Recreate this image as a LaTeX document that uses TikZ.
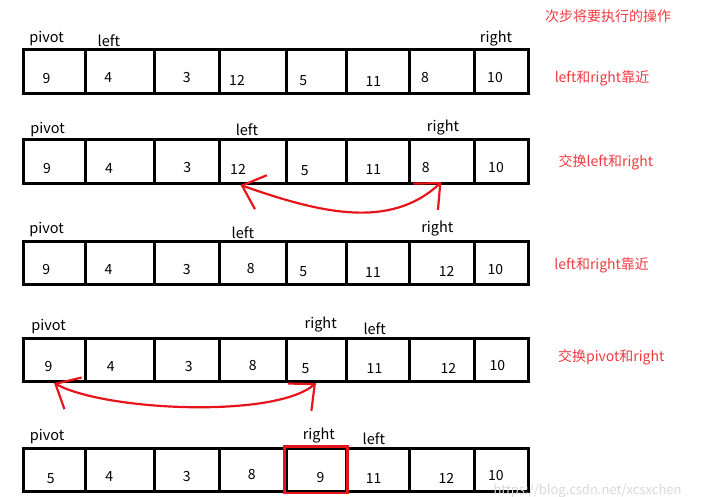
\documentclass[tikz,border=0pt]{standalone}
\usepackage{fontspec}
\setmainfont{Noto Sans CJK SC}
\usetikzlibrary{arrows.meta}
\definecolor{notered}{HTML}{F03A40}
\definecolor{penred}{HTML}{E8141C}
\begin{document}
\begin{tikzpicture}[x=1pt,y=-1pt,
    cell/.style={draw,line width=3pt,inner sep=0pt,minimum height=43.5pt},
    num/.style={font=\fontsize{14}{14}\selectfont},
    ptr/.style={font=\fontsize{14.5}{14.5}\selectfont},
    note/.style={text=notered,font=\fontsize{14}{14}\selectfont},
    swap/.style={draw=penred,line width=2.2pt,
      {Straight Barb[length=20pt,width=36pt]}-{Straight Barb[length=20pt,width=36pt]}}]
  \useasboundingbox (0,0) rectangle (701,497);

  % 格子
  \foreach \r/\top in {1/50,2/140,3/241,4/338,5/448}
    \foreach \c/\a/\b in {1/23/85,2/85/154,3/154/219,4/219/286,5/286/346,6/346/409,7/409/474,8/474/528}
      \node[cell,minimum width=\b-\a] (c\r\c) at ({(\a+\b)/2},\top+21.75) {};

  % 数字
  \foreach \t/\x/\y [count=\c] in {9/46.5/78.5,4/108.3/78,3/186.7/78,12/237/80.3,5/303.3/81,11/373.3/81.3,8/425/78,10/495/78}
    \node[num] (n1\c) at (\x,\y) {\t};
  \foreach \t/\x/\y [count=\c] in {9/47/168.3,4/109/168.3,3/187.3/168,12/238/169.7,5/304.7/170.3,11/373.3/170,8/425.8/167.7,10/496/167.7}
    \node[num] (n2\c) at (\x,\y) {\t};
  \foreach \t/\x/\y [count=\c] in {9/46.2/269.7,4/108.5/270,3/186.7/269.7,8/250.8/268.7,5/303.3/272,11/373/272.2,12/446.7/271.2,10/495.3/269.7}
    \node[num] (n3\c) at (\x,\y) {\t};
  \foreach \t/\x/\y [count=\c] in {9/48.5/366.7,4/110.8/366.7,3/188.8/367,8/252.8/365.7,5/305.5/368.7,11/374.5/368.7,12/448.3/368,10/497.3/365.7}
    \node[num] (n4\c) at (\x,\y) {\t};
  \foreach \t/\x/\y [count=\c] in {5/50.8/479,4/109.2/476.7,3/186.7/476.7,8/251.7/475,9/320.5/477.5,11/373.7/478.7,12/446.3/478,10/495.8/475.8}
    \node[num] (n5\c) at (\x,\y) {\t};

  % pivot, left, right
  \foreach \r/\px/\py/\lx/\ly/\rx/\ry in {1/46.7/39/108.8/40.5/496/38.3,
      2/47.5/130/247/130/443/128, 3/46.7/230/242.8/232.5/437.3/228.3,
      4/48.7/326.7/374.7/329.2/320.7/325, 5/47.2/436.7/373.8/438.7/318.8/436} {
    \node[ptr] (pv\r) at (\px,\py) {pivot};
    \node[ptr] (lf\r) at (\lx,\ly) {left};
    \node[ptr] (rt\r) at (\rx,\ry) {right};
  }

  % 次步操作
  \node[note] (title) at (608,15.8) {次步将要执行的操作};
  \node[note] (op1) at (602,78.8) {left和right靠近};
  \node[note] (op2) at (605.8,162.7) {交换left和right};
  \node[note] (op3) at (601.7,265) {left和right靠近};
  \node[note] (op4) at (611.2,357.8) {交换pivot和right};

  % 交换
  \draw[swap] ([xshift=-12pt]c24.south) .. controls (320,213) and (390,230) .. ([yshift=3pt]c27.south);
  \draw[swap] (c41.south) .. controls (105.5,411) and (275,418.4) .. (c45.south);

  % 基准值的新位置
  \draw[penred,line width=2.5pt] (c55.north west) rectangle (c55.south east);

  \node[text=black!15,font=\fontsize{13}{13}\selectfont] (wm) at (587.5,491) {https://blog.csdn.net/xcsxchen};
\end{tikzpicture}
\end{document}
